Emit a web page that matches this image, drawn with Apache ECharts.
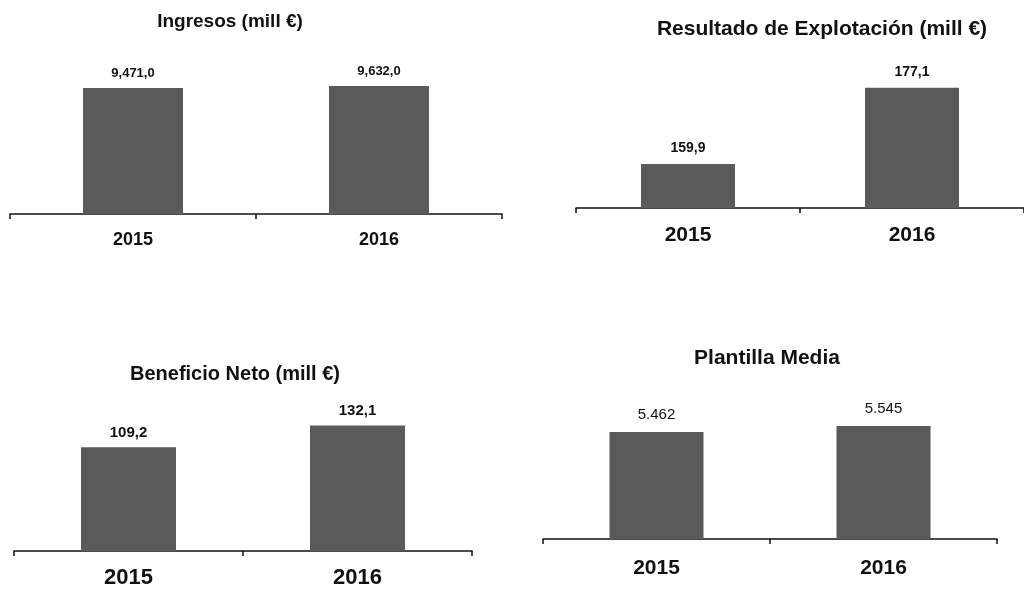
<!DOCTYPE html>
<html>
<head>
<meta charset="utf-8">
<script src="https://cdn.jsdelivr.net/npm/echarts@6/dist/echarts.min.js"></script>
<style>
html,body{margin:0;padding:0;background:#fff;}
#c{width:1024px;height:589px;}
</style>
</head>
<body>
<div id="c"></div>
<script>
const categories = ['2015', '2016'];
const titles = ['Ingresos (mill €)', 'Resultado de Explotación (mill €)', 'Beneficio Neto (mill €)', 'Plantilla Media'];
const ingresos = [9471.0, 9632.0];
const resultado = [159.9, 177.1];
const beneficio = [109.2, 132.1];
const plantilla = [5462, 5545];
const ingresosLabels = ['9,471,0', '9,632,0'];
const resultadoLabels = ['159,9', '177,1'];
const beneficioLabels = ['109,2', '132,1'];
const plantillaLabels = ['5.462', '5.545'];

const FONT = 'Arial, "Liberation Sans", sans-serif';
const BAR = '#5a5a5a';

const panels = [
  {grid:{left:10,width:492,top:81,height:133}, min:0, max:10000, data:ingresos, labels:ingresosLabels, barWidth:100,
   labelSize:13, labelBold:'bold', labelDist:8, catSize:18, catMargin:17,
   title:{x:230, y:12, size:19}},
  {grid:{left:576,width:450,top:75,height:133}, min:150, max:180, data:resultado, labels:resultadoLabels, barWidth:94,
   labelSize:14, labelBold:'bold', labelDist:9, catSize:21, catMargin:17,
   title:{x:822, y:19, size:21}},
  {grid:{left:14,width:458,top:418,height:135}, min:0, max:140, data:beneficio, labels:beneficioLabels, barWidth:95,
   labelSize:15, labelBold:'bold', labelDist:7, catSize:22, catMargin:16,
   title:{x:235, y:364, size:20}},
  {grid:{left:543,width:454,top:422,height:117}, min:4000, max:5600, data:plantilla, labels:plantillaLabels, barWidth:94,
   labelSize:15, labelBold:'normal', labelDist:10, catSize:21, catMargin:19,
   title:{x:767, y:348, size:21}}
];

const option = {
  backgroundColor:'#fff',
  animation:false,
  title: panels.map((p,i)=>({
    text: titles[i], left: p.title.x, top: p.title.y, textAlign:'center', padding:0,
    textStyle:{fontFamily:FONT, fontSize:p.title.size, fontWeight:'bold', color:'#111'}
  })),
  grid: panels.map(p=>Object.assign({containLabel:false}, p.grid)),
  xAxis: panels.map((p,i)=>({
    type:'category', gridIndex:i, data:categories, boundaryGap:true,
    axisLine:{onZero:false, lineStyle:{color:'#111', width:1.5}},
    axisTick:{show:true, length:5, lineStyle:{color:'#111', width:1.5}},
    axisLabel:{fontFamily:FONT, fontSize:p.catSize, fontWeight:'bold', color:'#111', margin:p.catMargin}
  })),
  yAxis: panels.map((p,i)=>({
    type:'value', gridIndex:i, min:p.min, max:p.max, show:false, splitLine:{show:false}
  })),
  series: panels.map((p,i)=>({
    type:'bar', xAxisIndex:i, yAxisIndex:i, data:p.data, barWidth:p.barWidth,
    itemStyle:{color:BAR},
    label:{show:true, position:'top', distance:p.labelDist,
      formatter:(d)=>p.labels[d.dataIndex],
      fontFamily:FONT, fontSize:p.labelSize, fontWeight:p.labelBold, color:'#111'}
  }))
};

const chart = echarts.init(document.getElementById('c'), null, {renderer:'canvas'});
chart.setOption(option);
</script>
</body>
</html>
